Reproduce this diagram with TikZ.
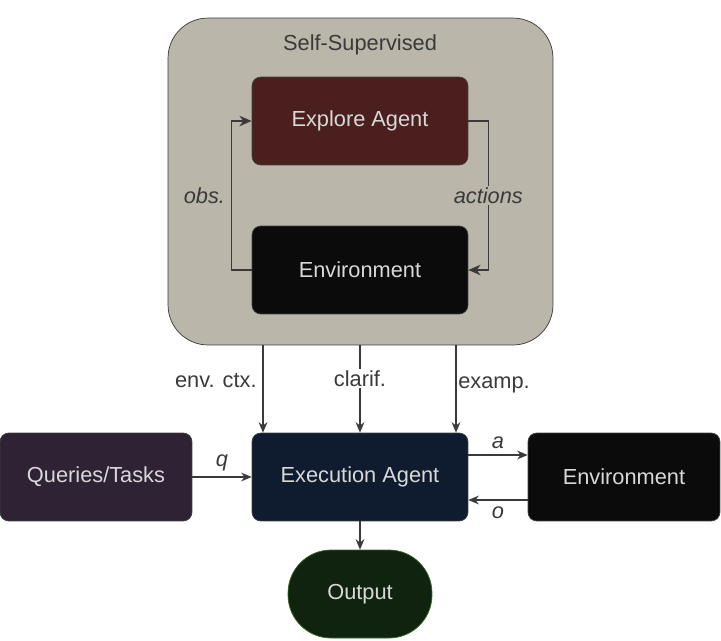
\documentclass[tikz,border=0pt]{standalone}
\usepackage{fontspec}
\setmainfont{Liberation Sans}
\usepackage{tikz}
\usetikzlibrary{positioning, arrows.meta}
\definecolor{groupFill}{HTML}{BAB6AA}
\definecolor{exploreFill}{HTML}{4A1F1E}
\definecolor{envFill}{HTML}{0B0B0B}
\definecolor{execFill}{HTML}{0F1C2F}
\definecolor{queryFill}{HTML}{2E2234}
\definecolor{outFill}{HTML}{10230E}
\definecolor{outBorder}{HTML}{3A6A28}
\definecolor{lightText}{HTML}{D8D8D8}
\definecolor{lineGray}{HTML}{3A3A3A}
\tikzstyle{blockNode}=[draw=black!75, rounded corners=5pt, minimum width=4.32cm, minimum height=1.76cm, inner sep=0pt, text=lightText, font=\fontsize{12.4}{14}\selectfont]
\tikzstyle{flowArrow}=[-{Stealth[length=6pt,width=5pt]}, draw=lineGray, line width=0.6pt]
\tikzstyle{loopArrow}=[-{Stealth[length=7pt,width=6pt]}, draw=lineGray, line width=0.9pt]
\tikzstyle{edgeLabel}=[text=lineGray, font=\fontsize{12.4}{14}\selectfont]

\begin{document}
\begin{tikzpicture}[x=0.02cm, y=-0.02cm]

    \useasboundingbox (0,0) rectangle (721,640);

    \node[draw=lineGray, fill=groupFill, rounded corners=0.8cm, minimum width=7.7cm, minimum height=6.54cm] (selfsup) at (360.5,181.5) {};
    \node[edgeLabel] (sstitle) at (360,45) {Self-Supervised};
    \node[blockNode, fill=exploreFill] (explore) at (360,121) {Explore Agent};
    \node[blockNode, fill=envFill] (envIn) at (360,270) {Environment};

    \node[blockNode, fill=execFill] (exec) at (360,477) {Execution Agent};
    \node[blockNode, fill=queryFill, minimum width=3.84cm] (queries) at (96,477) {Queries/Tasks};
    \node[blockNode, fill=envFill, minimum width=3.84cm] (envOut) at (624,477) {Environment};
    \node[blockNode, fill=outFill, draw=outBorder, rounded corners=0.86cm, minimum width=2.88cm] (output) at (360,594) {Output};

    \coordinate (ctxTop) at (263,345);
    \coordinate (clarTop) at (360,345);
    \coordinate (exampTop) at (456,345);

    \draw[loopArrow] (envIn.west) -- ++(-20,0) |- node[edgeLabel, pos=0.25, left, font=\fontsize{12.4}{14}\selectfont\itshape] {obs.} (explore.west);
    \draw[loopArrow] (explore.east) -- ++(20,0) |- node[edgeLabel, pos=0.25, fill=groupFill, inner sep=1pt, font=\fontsize{12.4}{14}\selectfont\itshape] {actions} (envIn.east);

    \draw[flowArrow] (ctxTop) -- node[edgeLabel, pos=0.4, left] {env. ctx.} (ctxTop |- exec.north);
    \draw[flowArrow] (clarTop) -- node[edgeLabel, pos=0.38, fill=white, inner sep=1pt] {clarif.} (clarTop |- exec.north);
    \draw[flowArrow] (exampTop) -- node[edgeLabel, pos=0.45, right, inner sep=1pt] {examp.} (exampTop |- exec.north);

    \draw[flowArrow] (queries.east) -- node[edgeLabel, above, font=\fontsize{12.4}{14}\selectfont\itshape] {q} (exec.west);
    \draw[flowArrow] ([yshift=0.44cm]exec.east) -- node[edgeLabel, above, font=\fontsize{12.4}{14}\selectfont\itshape] {a} ([yshift=0.44cm]envOut.west);
    \draw[flowArrow] ([yshift=-0.46cm]envOut.west) -- node[edgeLabel, below, font=\fontsize{12.4}{14}\selectfont\itshape] {o} ([yshift=-0.46cm]exec.east);
    \draw[flowArrow] (exec.south) -- (output.north);

\end{tikzpicture}
\end{document}
